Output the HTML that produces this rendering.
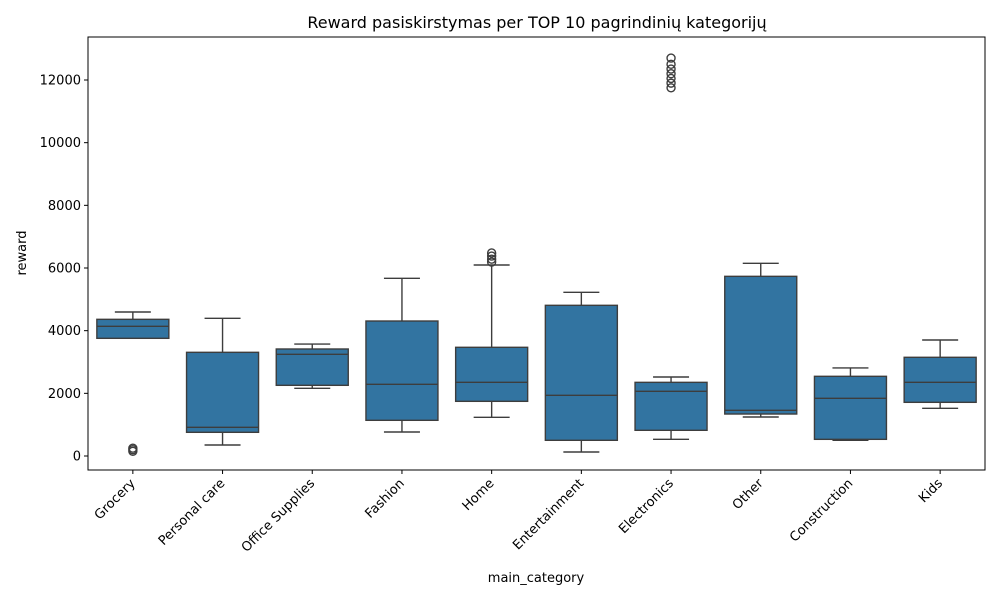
<!DOCTYPE html>
<html><head><meta charset="utf-8"><style>
body{margin:0;background:#fff;font-family:"Liberation Sans","DejaVu Sans",sans-serif;}
svg text{font-family:"DejaVu Sans","Liberation Sans",sans-serif;fill:#000;}
</style></head><body>
<svg id="chart" width="1000" height="600">
<rect width="1000" height="600" fill="#fff"/>
<text x="537" y="28" text-anchor="middle" font-size="16">Reward pasiskirstymas per TOP 10 pagrindinių kategorijų</text>
<g id="plot"></g>
<text x="536" y="582" text-anchor="middle" font-size="13">main_category</text>
<text transform="translate(26,253) rotate(-90)" text-anchor="middle" font-size="13">reward</text>
</svg>
<script>
const categories=["Grocery","Personal care","Office Supplies","Fashion","Home","Entertainment","Electronics","Other","Construction","Kids"];
const whiskLow=[3756,351,2160,766,1234,128,532,1245,500,1521];
const q1=[3756,756,2256,1139,1745,501,820,1340,532,1713];
const medians=[4138,916,3245,2287,2351,1937,2064,1458,1841,2351];
const q3=[4362,3309,3415,4308,3469,4809,2351,5734,2543,3150];
const whiskHigh=[4596,4394,3574,5670,6096,5223,2521,6150,2809,3702];
const outliers=[[150,200,250],[],[],[],[6190,6280,6380,6480],[],[11750,11900,12050,12200,12350,12500,12700],[],[],[]];
const yTicks=[0,2000,4000,6000,8000,10000,12000];

const L=88,R=985,T=37,B=470;
const y=v=>456-v*376/12000;
const step=(R-L)/categories.length;
const x=i=>L+step*(i+0.5);
const NS="http://www.w3.org/2000/svg";
const g=document.getElementById('plot');
function mk(t,a){const e=document.createElementNS(NS,t);for(const k in a)e.setAttribute(k,a[k]);g.appendChild(e);return e;}
const col="#3d3d3d",bw=72,cw=36;
yTicks.forEach(v=>{
  const tk=mk('line',{x1:L-4,x2:L,y1:y(v),y2:y(v),stroke:'#000','stroke-width':1});
  
  
  const t=mk('text',{x:L-7,y:y(v)+4.5,'text-anchor':'end','font-size':13});
  t.textContent=v;
  
  
});
categories.forEach((c,i)=>{
  const cx=x(i);
  const ln=(x1,y1,x2,y2,n)=>{const e=mk('line',{x1,y1,x2,y2,stroke:col,'stroke-width':1.4});};
  ln(cx,y(whiskLow[i]),cx,y(q1[i]),'lower-whisker');
  ln(cx,y(q3[i]),cx,y(whiskHigh[i]),'upper-whisker');
  ln(cx-cw/2,y(whiskLow[i]),cx+cw/2,y(whiskLow[i]),'lower-cap');
  ln(cx-cw/2,y(whiskHigh[i]),cx+cw/2,y(whiskHigh[i]),'upper-cap');
  const b=mk('rect',{x:cx-bw/2,y:y(q3[i]),width:bw,height:y(q1[i])-y(q3[i]),fill:'#3274a1',stroke:col,'stroke-width':1.4});
  
  
  ln(cx-bw/2,y(medians[i]),cx+bw/2,y(medians[i]),'median-line');
  outliers[i].forEach(v=>{
    const o=mk('circle',{cx:cx,cy:y(v),r:4,fill:'none',stroke:col,'stroke-width':1.4});
    
    
  });
  const tk=mk('line',{x1:cx,x2:cx,y1:B,y2:B+4,stroke:'#000','stroke-width':1});
  
  
  const t=mk('text',{transform:`translate(${cx+3},${B+14}) rotate(-45)`,'text-anchor':'end','font-size':13});
  t.textContent=c;
  
  
});
const fr=mk('rect',{x:L,y:T,width:R-L,height:B-T,fill:'none',stroke:'#000','stroke-width':1});


</script>
</body></html>
